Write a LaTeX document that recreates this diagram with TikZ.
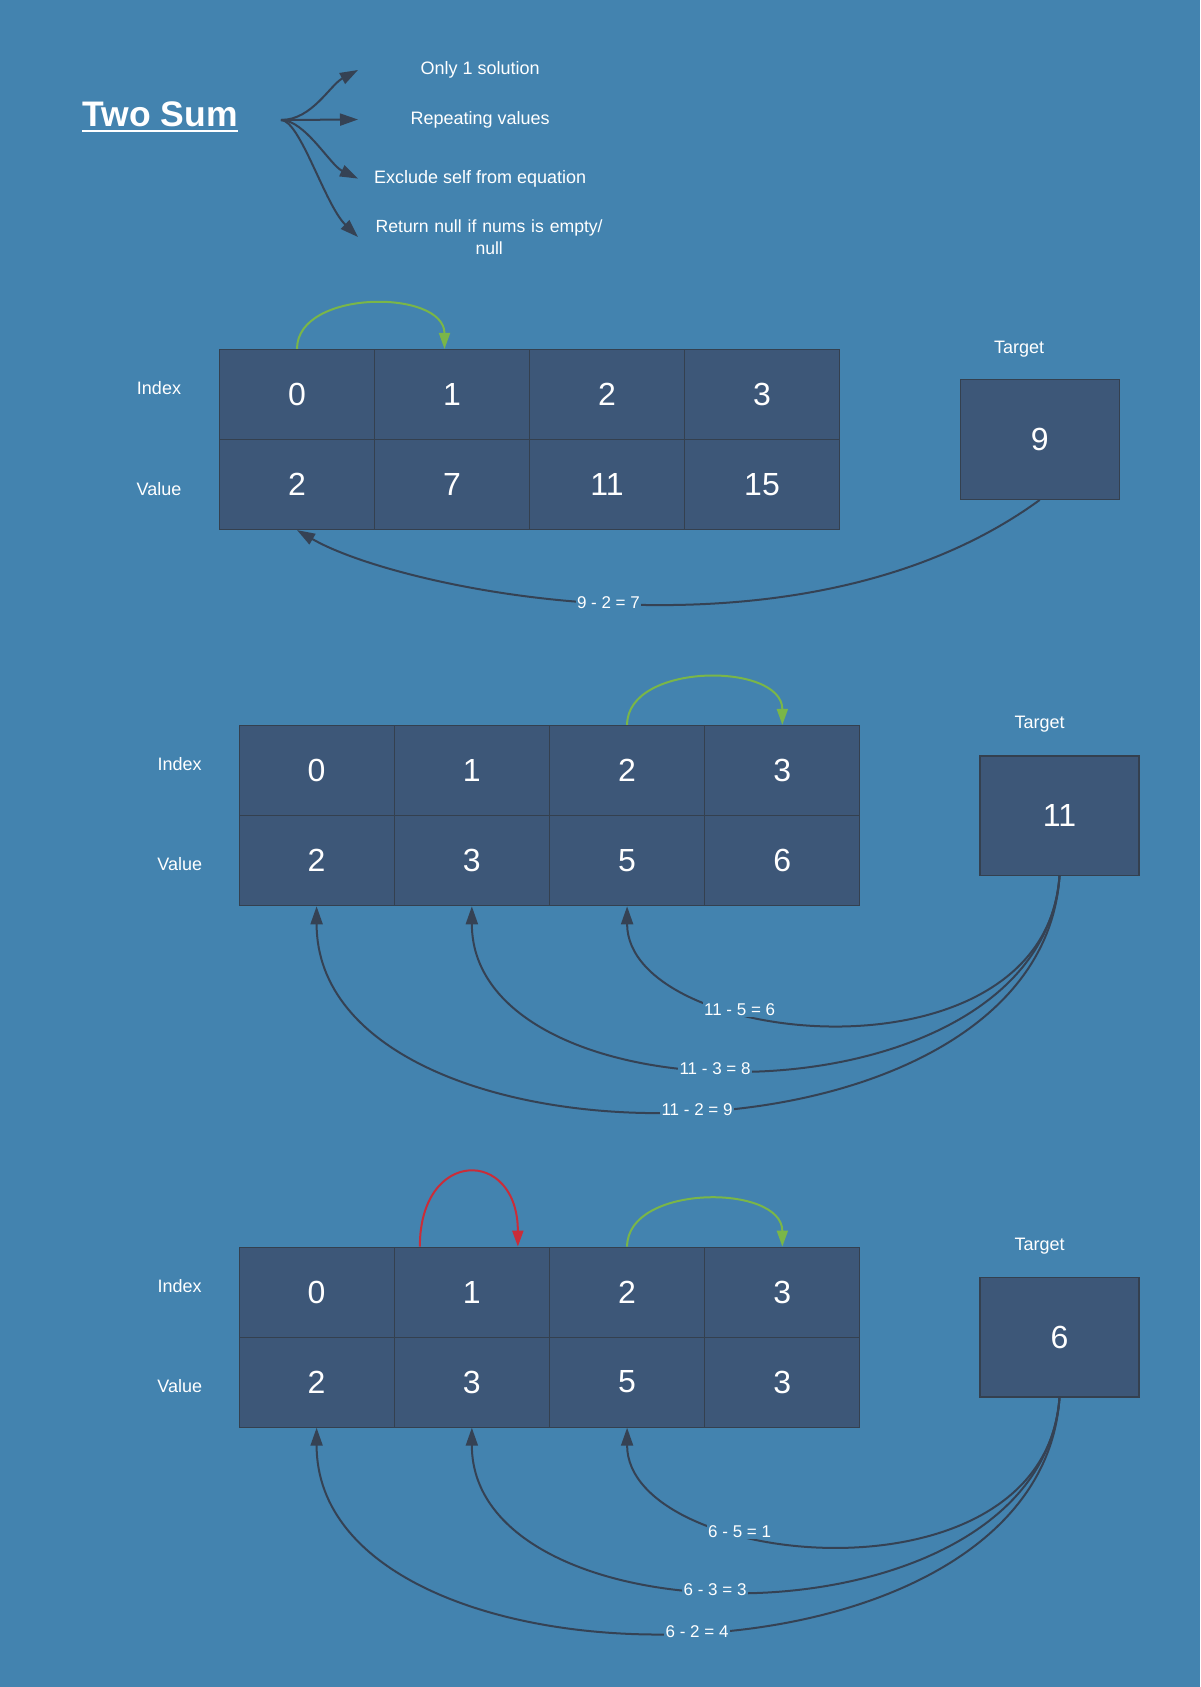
\documentclass[tikz,border=0pt]{standalone}
\usepackage{fontspec}
\setmainfont{Liberation Sans}
\usepackage{tikz}
\usetikzlibrary{arrows.meta,calc}

\definecolor{bgblue}{HTML}{4383AF}
\definecolor{cellfill}{HTML}{3D5778}
\definecolor{cellline}{HTML}{34404F}
\definecolor{arrowgray}{HTML}{354254}
\definecolor{okgreen}{HTML}{7AB648}
\definecolor{badred}{HTML}{C92D39}

\tikzset{
    cell/.style={draw=cellline, fill=cellfill, line width=1.2pt, minimum width=155pt,
        minimum height=90pt, inner sep=0pt, text=white, font=\fontsize{32}{36}\selectfont},
    target/.style={draw=cellline, fill=cellfill, line width=1.2pt, minimum width=159pt,
        minimum height=119.5pt, inner sep=0pt, text=white, font=\fontsize{32}{36}\selectfont},
    note/.style={text=white, inner sep=0pt, font=\fontsize{18}{21.5}\selectfont},
    eq/.style={fill=bgblue, text=white, inner sep=1.5pt, font=\fontsize{17}{20}\selectfont},
    conn/.style={draw=arrowgray, line width=2pt, -{Triangle[length=18pt,width=12pt]}},
    okarc/.style={draw=okgreen, line width=2pt, -{Triangle[length=16pt,width=11pt]}},
    badarc/.style={draw=badred, line width=2pt, -{Triangle[length=16pt,width=11pt]}}
}

\begin{document}
\begin{tikzpicture}[x=1pt, y=-1pt]
    % Background
    \useasboundingbox (0,0) rectangle (1200,1687);
    \fill[bgblue] (0,0) rectangle (1200,1687);

    % Title and notes
    \node[note, anchor=base, inner xsep=0pt, font=\fontsize{35.5}{40}\selectfont\bfseries] (title) at (160,126) {Two Sum};
    \draw[white, line width=2.5pt] ([yshift=-5pt]title.base west) -- ([yshift=-5pt]title.base east);

    \coordinate (fork) at (281,120);
    \node[note, anchor=west, minimum width=244pt] (only) at (358,70) {Only 1 solution};
    \node[note, anchor=west, minimum width=244pt] (repeat) at (358,119.5) {Repeating values};
    \node[note, anchor=west, minimum width=244pt] (exclude) at (358,178.6) {Exclude self from equation};
    \node[note, anchor=west, text width=262pt, align=center, font=\fontsize{17.6}{21.5}\selectfont] (empty) at (358,237) {Return null if nums is empty/\\null};

    \draw[conn] (fork) .. controls (312,120) and (330,85) .. (only.west);
    \draw[conn] (fork) -- (repeat.west);
    \draw[conn] (fork) .. controls (305,120) and (330,165) .. (exclude.west);
    \draw[conn] (fork) .. controls (300,120) and (325,205) .. (empty.west);

    % First example
    \node[note] (idx1) at (159,388.5) {Index};
    \node[note] (val1) at (159,488.6) {Value};
    \foreach \v [count=\i from 0] in {2,7,11,15} {
        \node[cell] (i1\i) at ({297+155*\i},394.5) {\i};
        \node[cell] (v1\i) at ({297+155*\i},484.5) {\v};
    }
    \node[note] (tl1) at (1019.2,348.7) {Target};
    \node[target] (t1) at (1039.7,439.6) {9};

    \draw[okarc] (i10.north) .. controls ($(i10.north)+(0,-60)$) and ($(i11.north)+(-7.5,-60)$) .. ([xshift=-7.5pt]i11.north);
    \draw[conn] (t1.south) .. controls ($(t1.south)+(-240,175)$) and ($(v10.south)+(103,60)$) .. (v10.south)
        node[pos=0.51, eq] {9 - 2 = 7};

    % Second example
    \node[note] (idx2) at (179.7,764) {Index};
    \node[note] (val2) at (179.7,864) {Value};
    \foreach \v [count=\i from 0] in {2,3,5,6} {
        \node[cell] (i2\i) at ({316.6+155.25*\i},770.5) {\i};
        \node[cell] (v2\i) at ({316.6+155.25*\i},860.7) {\v};
    }
    \node[note] (tl2) at (1039.6,724.3) {Target};
    \node[target] (t2) at (1059.5,815.8) {11};

    \draw[okarc] (i22.north) .. controls ($(i22.north)+(0,-63)$) and ($(i23.north)+(0,-63)$) .. (i23.north);
    \draw[conn] (t2.south) .. controls ($(t2.south)+(-15,214)$) and ($(v22.south)+(0,141)$) .. (v22.south)
        node[pos=0.66, eq] {11 - 5 = 6};
    \draw[conn] (t2.south) .. controls ($(t2.south)+(-20,254)$) and ($(v21.south)+(0,221)$) .. (v21.south)
        node[pos=0.55, eq] {11 - 3 = 8};
    \draw[conn] (t2.south) .. controls ($(t2.south)+(-20,309)$) and ($(v20.south)+(0,276)$) .. (v20.south)
        node[pos=0.485, eq] {11 - 2 = 9};

    % Third example
    \node[note] (idx3) at (179.7,1286) {Index};
    \node[note] (val3) at (179.7,1386) {Value};
    \foreach \v [count=\i from 0] in {2,3,5,3} {
        \node[cell] (i3\i) at ({316.6+155.25*\i},1292.2) {\i};
        \node[cell] (v3\i) at ({316.6+155.25*\i},1382.1) {\v};
    }
    \node[note] (tl3) at (1039.6,1246.3) {Target};
    \node[target] (t3) at (1059.5,1337.2) {6};

    \draw[badarc] ([xshift=-52pt]i31.north) .. controls ($(i31.north)+(-52,-99)$) and ($(i31.north)+(46,-99)$) .. ([xshift=46pt]i31.north);
    \draw[okarc] (i32.north) .. controls ($(i32.north)+(0,-63)$) and ($(i33.north)+(0,-63)$) .. (i33.north);
    \draw[conn] (t3.south) .. controls ($(t3.south)+(-15,214)$) and ($(v32.south)+(0,141)$) .. (v32.south)
        node[pos=0.66, eq] {6 - 5 = 1};
    \draw[conn] (t3.south) .. controls ($(t3.south)+(-20,254)$) and ($(v31.south)+(0,221)$) .. (v31.south)
        node[pos=0.55, eq] {6 - 3 = 3};
    \draw[conn] (t3.south) .. controls ($(t3.south)+(-20,309)$) and ($(v30.south)+(0,276)$) .. (v30.south)
        node[pos=0.485, eq] {6 - 2 = 4};
\end{tikzpicture}
\end{document}
